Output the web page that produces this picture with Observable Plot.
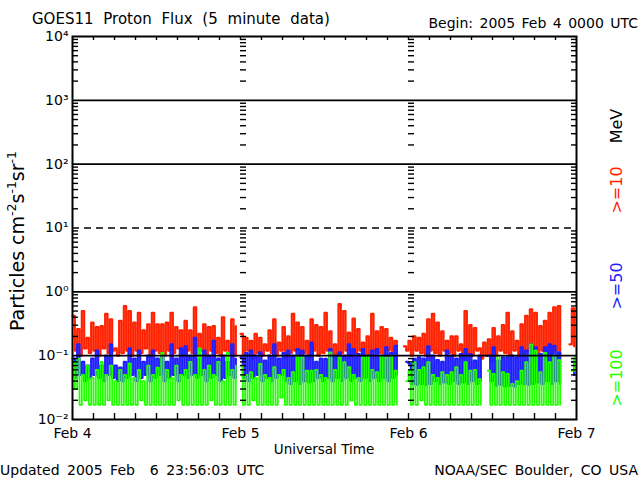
<!DOCTYPE html>
<html><head><meta charset="utf-8">
<script src="https://cdn.jsdelivr.net/npm/d3@7"></script>
<script src="https://cdn.jsdelivr.net/npm/@observablehq/plot@0.6"></script>
<style>
body{margin:0;background:#fff;}
#wrap{position:relative;width:640px;height:480px;overflow:hidden;background:#fff;}
#wrap svg{position:absolute;left:0;top:0;}
</style></head><body><div id="wrap"></div>
<script>
// 20-minute samples starting 2005 Feb 4 00:00 UTC (null = data gap)
const red = [
0.42,0.12,0.26,0.10,0.50,0.13,0.19,0.11,0.33,0.12,0.28,0.10,
0.29,0.13,0.45,0.11,0.37,0.12,0.13,0.10,0.35,0.11,0.60,0.12,
0.50,0.10,0.33,0.12,0.47,0.11,0.25,0.13,0.31,0.10,0.47,0.12,
0.31,0.11,0.31,0.10,0.33,0.12,0.47,0.11,0.28,0.13,0.25,0.10,
0.35,0.12,0.25,0.11,0.57,0.10,0.22,0.12,0.31,0.10,0.28,0.12,
0.29,0.11,0.19,0.10,0.40,0.12,0.17,0.11,0.37,0.10,0.29,null,
0.22,0.10,0.19,0.12,0.17,0.09,0.22,0.11,0.19,0.10,0.15,0.12,
0.25,0.11,0.37,0.10,0.16,0.12,0.28,0.09,0.20,0.11,0.45,0.12,
0.33,0.10,0.28,0.11,0.17,0.09,0.37,0.12,0.30,0.10,0.28,0.11,
0.47,0.12,0.24,0.10,0.15,0.09,0.64,0.11,0.50,0.12,0.23,0.10,
0.38,0.11,0.26,0.12,0.16,0.09,0.20,0.10,0.45,0.12,0.24,0.11,
0.28,0.10,0.26,0.12,0.19,0.11,0.17,0.10,null,null,0.14,0.12,
0.17,0.10,0.20,0.12,0.19,0.11,0.22,0.10,0.37,0.12,0.45,0.11,
0.33,0.10,0.24,0.12,0.17,0.11,0.20,0.10,0.20,0.12,0.15,0.09,
0.50,0.11,0.30,0.10,0.27,0.12,0.13,0.09,0.16,0.10,0.18,0.08,
0.27,0.10,0.20,0.12,0.30,0.11,0.47,0.10,0.24,0.12,0.17,0.10,
0.31,0.11,0.42,0.12,0.53,0.10,0.47,0.11,0.29,0.12,0.35,0.10,
0.47,0.11,0.57,0.12,0.60,0.10,null,null,null,0.15,0.55,0.14
];
const blue = [
0.09,0.045,0.15,0.05,0.08,0.04,0.07,0.045,0.09,0.05,0.12,0.045,
0.07,0.04,0.10,0.05,0.15,0.045,0.07,0.04,0.065,0.04,0.08,0.045,
0.13,0.05,0.09,0.04,0.12,0.045,0.08,0.05,0.10,0.04,0.12,0.045,
0.09,0.05,0.10,0.04,0.08,0.045,0.15,0.05,0.09,0.04,0.13,0.05,
0.14,0.045,0.10,0.05,0.19,0.045,0.09,0.05,0.12,0.04,0.10,0.045,
0.17,0.05,0.09,0.04,0.10,0.045,0.08,0.05,0.15,0.045,0.09,null,
0.094,0.045,0.11,0.04,0.12,0.045,0.10,0.05,0.113,0.04,0.084,0.045,
0.10,0.04,0.15,0.045,0.09,0.05,0.11,0.04,0.12,0.036,0.10,0.04,
0.127,0.036,0.12,0.04,0.10,0.038,0.16,0.04,0.08,0.045,0.09,0.04,
0.089,0.045,0.127,0.04,0.10,0.045,0.113,0.04,0.10,0.045,0.15,0.04,
0.127,0.045,0.106,0.04,0.127,0.045,0.10,0.04,0.12,0.045,0.127,0.04,
0.10,0.045,0.135,0.04,0.11,0.045,0.143,0.05,null,null,null,0.08,
0.075,0.036,0.089,0.035,0.094,0.036,0.09,0.035,0.14,0.036,0.10,0.04,
0.085,0.036,0.08,0.038,0.12,0.036,0.10,0.04,0.09,0.036,0.106,0.038,
0.127,0.036,0.106,0.04,0.084,0.036,0.10,0.04,null,null,0.10,0.04,
0.135,0.034,0.084,0.035,0.094,0.033,0.094,0.034,0.10,0.033,0.094,0.036,
0.135,0.036,0.12,0.035,0.15,0.036,0.135,0.038,0.106,0.036,0.135,0.04,
0.15,0.036,0.143,0.04,0.113,0.036,null,null,null,null,0.08,0.05
];
const green = [
0.08,0.03,0.09,0.017,0.05,0.02,0.07,0.017,0.045,0.017,0.06,0.017,
0.08,0.017,0.05,0.02,0.07,0.017,0.04,0.017,0.06,0.017,0.05,0.017,
0.075,0.017,0.045,0.017,0.06,0.02,0.04,0.017,0.07,0.017,0.05,0.017,
0.065,0.017,0.11,0.017,0.06,0.017,0.045,0.017,0.07,0.02,0.05,0.017,
0.06,0.017,0.08,0.017,0.05,0.017,0.13,0.017,0.06,0.017,0.07,0.02,
0.05,0.017,0.08,0.017,0.04,0.017,0.11,0.017,0.06,0.017,0.07,null,
0.07,0.017,0.05,0.017,0.055,0.02,0.045,0.017,0.074,0.017,0.05,0.017,
0.045,0.017,0.066,0.017,0.05,0.022,0.06,0.017,0.045,0.017,0.055,0.017,
0.10,0.017,0.094,0.017,0.058,0.017,0.058,0.017,0.06,0.017,0.05,0.017,
0.045,0.017,0.113,0.017,0.06,0.017,0.094,0.017,0.079,0.017,0.066,0.02,
0.05,0.017,0.045,0.017,0.094,0.017,0.10,0.017,0.06,0.017,0.055,0.017,
0.10,0.017,0.094,0.017,0.10,0.017,0.058,0.017,null,null,null,0.04,
0.058,0.017,0.079,0.017,0.06,0.02,0.066,0.017,0.079,0.017,0.05,0.017,
0.045,0.017,0.055,0.017,0.05,0.017,0.055,0.017,0.066,0.017,0.05,0.017,
0.079,0.017,0.058,0.017,0.06,0.017,0.043,0.017,null,null,0.058,0.017,
0.052,0.017,0.10,0.017,0.055,0.017,0.052,0.017,0.036,0.017,0.04,0.017,
0.058,0.017,0.079,0.017,0.15,0.017,0.12,0.017,0.055,0.017,0.11,0.017,
0.079,0.017,0.10,0.017,0.085,0.017,null,null,null,null,0.058,0.094
];
const seriesNames = [">=10", ">=50", ">=100"];
const seriesColors = ["#ff2200", "#2020ff", "#22ff00"];
const seriesWidths = [2.2, 2.2, 1.8];
const dayTicks = [Date.UTC(2005,1,4), Date.UTC(2005,1,5), Date.UTC(2005,1,6), Date.UTC(2005,1,7)].map(d => new Date(d));
const dayLabels = ["Feb 4", "Feb 5", "Feb 6", "Feb 7"];
const decades = [1e-2, 1e-1, 1e0, 1e1, 1e2, 1e3, 1e4];
const solidGrid = [1e3, 1e2, 1e0, 1e-1];
const dashedGrid = [1e1];
const stepMinutes = 20;

const sup = {"-":"\u207B","0":"\u2070","1":"\u00B9","2":"\u00B2","3":"\u00B3","4":"\u2074"};
const fmtPow = d => "10" + String(Math.round(Math.log10(d))).split("").map(c => sup[c]).join("");

const rows = arr => arr.map((v, i) => ({t: new Date(+dayTicks[0] + i * stepMinutes * 60000), v}));

const W = 640, H = 480, mL = 72, mR = 64, mT = 36, mB = 61;
const msPerPx = (dayTicks[3] - dayTicks[0]) / (W - mL - mR);
const decadePx = (H - mT - mB) / 6;
const minors = d3.range(-2, 4).flatMap(k => d3.range(2, 10).map(m => m * 10 ** k));
const innerTicks = dayTicks.slice(0, 3).flatMap(d => minors.map(v => ({x1: d, x2: new Date(+d + 6 * msPerPx), y: v})));
const rightTicks = minors.map(v => ({x1: new Date(+dayTicks[3] - 5 * msPerPx), x2: dayTicks[3], y: v}));
const hours = d3.utcHour.every(3).range(new Date(+dayTicks[0] + 1), dayTicks[3]);

const lines = [red, blue, green].map((arr, i) =>
  Plot.line(rows(arr), {x: "t", y: "v", stroke: seriesColors[i], strokeWidth: seriesWidths[i], curve: "step-after"}));

const chart = Plot.plot({
  width: W, height: H,
  marginLeft: mL, marginRight: mR, marginTop: mT, marginBottom: mB,
  style: {fontFamily: "DejaVu Sans", fontSize: "14px", background: "white", color: "black"},
  x: {type: "utc", domain: [dayTicks[0], dayTicks[3]]},
  y: {type: "log", domain: [1e-2, 1e4]},
  marks: [
    ...lines,
    Plot.ruleY(solidGrid, {stroke: "black", strokeWidth: 1.6}),
    Plot.ruleY(dashedGrid, {stroke: "black", strokeWidth: 1.6, strokeDasharray: "7,5"}),
    Plot.ruleY(innerTicks, {x1: "x1", x2: "x2", y: "y", stroke: "black", strokeWidth: 1.4}),
    Plot.ruleY(rightTicks, {x1: "x1", x2: "x2", y: "y", stroke: "black", strokeWidth: 1.4}),
    Plot.ruleX(hours, {x: d => d, y1: 1e-2, y2: 1e-2 * 10 ** (6 / decadePx), stroke: "black", strokeWidth: 1.4}),
    Plot.ruleX(hours, {x: d => d, y1: 1e4 / 10 ** (4 / decadePx), y2: 1e4, stroke: "black", strokeWidth: 1.4}),
    Plot.frame({stroke: "black", strokeWidth: 2}),
    Plot.axisY({ticks: decades, tickSize: 0, tickPadding: 4, tickFormat: fmtPow, label: null, fontSize: 14}),
    Plot.axisX({ticks: dayTicks, tickSize: 0, tickPadding: 9, label: null, fontSize: 14,
      tickFormat: d => dayLabels[dayTicks.findIndex(t => +t === +d)]})
  ]
});
document.getElementById("wrap").appendChild(chart);

// overlay texts
const ov = d3.select("#wrap").append("svg").attr("width", W).attr("height", H)
  .style("font-family", "DejaVu Sans").style("pointer-events", "none");
const txt = (x, y, s, o = {}) => ov.append("text").attr("x", x).attr("y", y)
  .attr("text-anchor", o.anchor || "start").attr("font-size", o.size || 14)
  .style("word-spacing", (o.ws || 0) + "px").style("white-space", "pre")
  .attr("fill", o.fill || "black").text(s);
txt(32, 24, "GOES11 Proton Flux (5 minute data)", {size: 15, ws: 5});
txt(638, 28, "Begin: 2005 Feb 4 0000 UTC", {anchor: "end", ws: 2});
txt(324, 454, "Universal Time", {anchor: "middle", size: 13.5});
txt(0, 475, "Updated 2005 Feb  6 23:56:03 UTC", {ws: 3});
txt(638, 475, "NOAA/SEC Boulder, CO USA", {anchor: "end", ws: 3});

// y label
const yl = ov.append("text").attr("transform", "translate(24,241) rotate(-90)")
  .attr("text-anchor", "middle").attr("font-size", 19);
const parts = [["Particles cm", 0], ["-2", 1], ["s", 0], ["-1", 1], ["sr", 0], ["-1", 1]];
let up = false;
parts.forEach(([s, isSup]) => {
  const t = yl.append("tspan").text(s);
  if (isSup && !up) { t.attr("dy", -8).attr("font-size", 12.5); up = true; }
  else if (isSup) { t.attr("font-size", 12.5); }
  else if (up) { t.attr("dy", 8); up = false; }
});

// right-side labels
const rlab = [["MeV", "black", 126], [seriesNames[0], seriesColors[0], 190], [seriesNames[1], seriesColors[1], 286], [seriesNames[2], seriesColors[2], 378]];
rlab.forEach(([s, c, y]) => ov.append("text").attr("transform", `translate(622,${y}) rotate(-90)`)
  .attr("text-anchor", "middle").attr("font-size", 16).attr("fill", c).text(s));
</script>
</body></html>
